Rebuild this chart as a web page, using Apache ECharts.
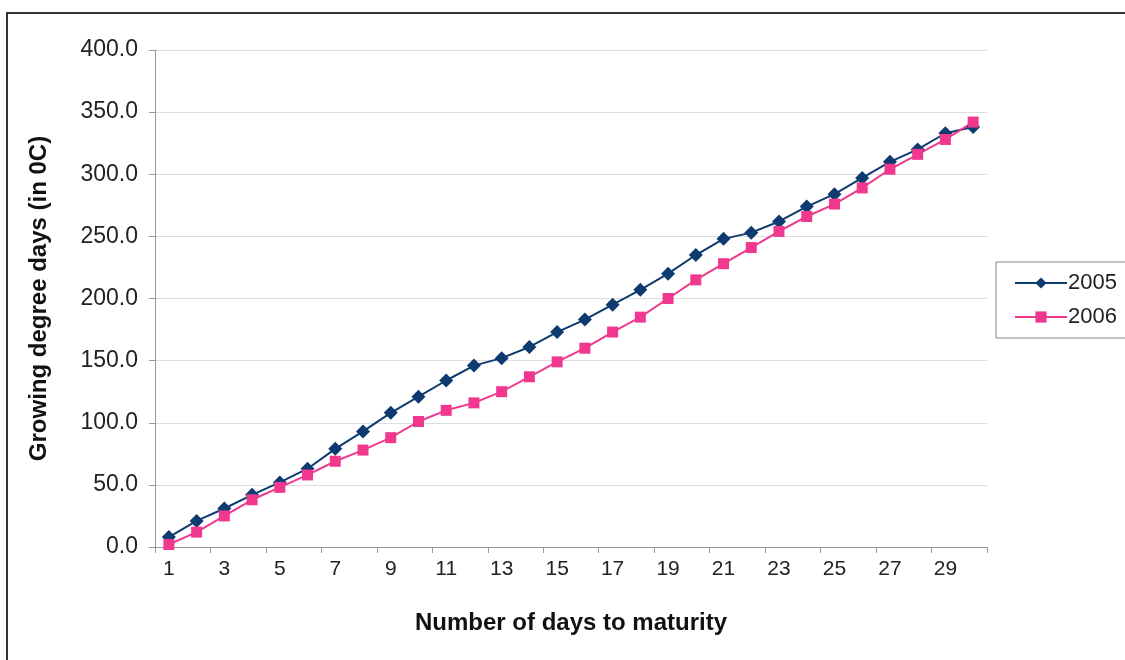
<!DOCTYPE html>
<html>
<head>
<meta charset="utf-8">
<script src="https://cdn.jsdelivr.net/npm/echarts@6/dist/echarts.min.js"></script>
<style>
  html, body { margin: 0; padding: 0; background: #fff; }
  #chart { width: 1125px; height: 660px; }
</style>
</head>
<body>
<div id="chart"></div>
<script>
// Days to maturity (category axis)
const days = Array.from({ length: 30 }, (_, i) => String(i + 1));

// Cumulative growing degree days per season
const gdd2005 = [8, 21, 31, 42, 52, 63, 79, 93, 108, 121, 134, 146, 152, 161, 173, 183, 195, 207, 220, 235, 248, 253, 262, 274, 284, 297, 310, 320, 333, 338];
const gdd2006 = [2, 12, 25, 38, 48, 58, 69, 78, 88, 101, 110, 116, 125, 137, 149, 160, 173, 185, 200, 215, 228, 241, 254, 266, 276, 289, 304, 316, 328, 342];

const seriesNames = ['2005', '2006'];
const xTitle = 'Number of days to maturity';
const yTitle = 'Growing degree days (in 0C)';

const font = 'Liberation Sans, Arial, sans-serif';
const blue = '#0d3b6f';
const pink = '#f0388f';

const chart = echarts.init(document.getElementById('chart'));
chart.setOption({
  animation: false,
  backgroundColor: '#fff',
  textStyle: { fontFamily: font },
  graphic: [
    {
      type: 'rect',
      shape: { x: 7, y: 13, width: 1130, height: 660 },
      style: { fill: 'none', stroke: '#333', lineWidth: 2 }
    }
  ],
  grid: { left: 155, right: 138, top: 50, bottom: 113, containLabel: false },
  legend: {
    orient: 'vertical',
    left: 996,
    top: 262,
    width: 140,
    padding: [10, 40, 10, 18],
    itemGap: 12,
    itemWidth: 52,
    itemHeight: 14,
    borderColor: '#888',
    borderWidth: 1,
    data: seriesNames,
    textStyle: { fontFamily: font, fontSize: 22, color: '#222', padding: [0, 0, 0, -4] }
  },
  xAxis: {
    type: 'category',
    data: days,
    boundaryGap: true,
    name: xTitle,
    nameLocation: 'middle',
    nameGap: 64,
    nameTextStyle: { fontFamily: font, fontSize: 24, fontWeight: 'bold', color: '#111' },
    axisLine: { lineStyle: { color: '#999', width: 1 } },
    axisTick: { show: true, alignWithLabel: false, length: 6, lineStyle: { color: '#999' } },
    axisLabel: { interval: 1, fontFamily: font, fontSize: 21, color: '#222', margin: 12 },
    splitLine: { show: false }
  },
  yAxis: {
    type: 'value',
    min: 0,
    max: 400,
    interval: 50,
    name: yTitle,
    nameLocation: 'middle',
    nameGap: 104,
    nameTextStyle: { fontFamily: font, fontSize: 24, fontWeight: 'bold', color: '#111' },
    axisLine: { show: true, lineStyle: { color: '#999', width: 1 } },
    axisTick: { show: true, length: 6, inside: false, lineStyle: { color: '#999' } },
    axisLabel: {
      fontFamily: font, fontSize: 23, color: '#222', margin: 17,
      formatter: v => v.toFixed(1)
    },
    splitLine: { show: true, lineStyle: { color: '#ddd', width: 1 } }
  },
  series: [
    {
      name: seriesNames[0],
      type: 'line',
      data: gdd2005,
      symbol: 'diamond',
      symbolSize: 14,
      lineStyle: { color: blue, width: 2 },
      itemStyle: { color: blue }
    },
    {
      name: seriesNames[1],
      type: 'line',
      data: gdd2006,
      symbol: 'rect',
      symbolSize: 11,
      lineStyle: { color: pink, width: 2 },
      itemStyle: { color: pink }
    }
  ]
});
</script>
</body>
</html>
